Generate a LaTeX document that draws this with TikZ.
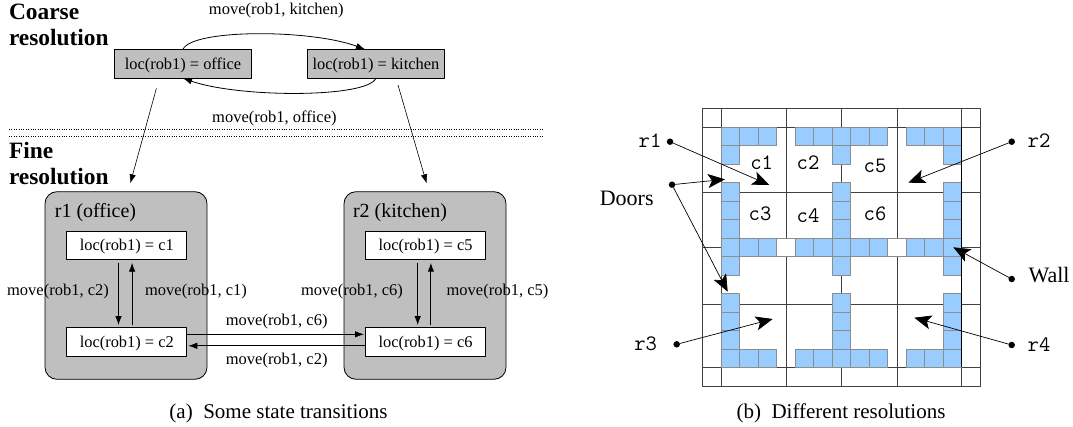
\documentclass[tikz,border=0pt]{standalone}
\usepackage{fontspec}
\setmainfont{Liberation Serif}
\usepackage{tikz}
\usetikzlibrary{arrows,arrows.meta,calc}

\definecolor{roomgray}{gray}{0.75}
\definecolor{cellblue}{RGB}{153,204,255}
\definecolor{cellline}{gray}{0.55}

\tikzset{
  every node/.style={inner sep=0pt, outer sep=0pt},
  lab/.style={font=\fontsize{16.5bp}{18bp}\selectfont},
  headlab/.style={font=\fontsize{23.4bp}{26bp}\selectfont\bfseries, align=left, anchor=north west},
  caplab/.style={font=\fontsize{21bp}{23bp}\selectfont},
  roomlab/.style={font=\fontsize{20bp}{22bp}\selectfont},
  biglab/.style={font=\fontsize{22bp}{24bp}\selectfont},
  ttlab/.style={font=\fontsize{22bp}{24bp}\selectfont\ttfamily},
  statebox/.style={draw, line width=0.8pt, minimum width=137.5bp, minimum height=29bp, text height=14bp, text depth=3bp, font=\fontsize{16.4bp}{18bp}\selectfont},
  coarsebox/.style={statebox, fill=roomgray},
  finebox/.style={statebox, fill=white, minimum width=120bp, minimum height=28.4bp},
  roombox/.style={draw, line width=0.8pt, fill=roomgray, rounded corners=12bp, minimum width=162bp, minimum height=187.6bp},
  cellbox/.style={draw=cellline, line width=0.8pt, fill=#1, minimum size=18.5bp},
  cellbox/.default=cellblue,
  pin/.style={circle, fill=black, minimum size=6.5bp},
  bigarrow/.style={-{Stealth[length=17bp,width=14bp,inset=4bp]}, line width=0.7pt},
}

\begin{document}
\begin{tikzpicture}[>={Latex[length=9bp,width=6.5bp]}, line join=bevel]
  \useasboundingbox (0bp, 0bp) rectangle (1073bp, 427bp);

  % Coarse part
  \node (coarsetext) at (9bp, 422.5bp) [headlab] {Coarse\\resolution};
  \node (office) at (183bp, 363.2bp) [coarsebox] {loc(rob1) = office};
  \node (kitchen) at (375.9bp, 363.2bp) [coarsebox] {loc(rob1) = kitchen};
  \node (movekitchen) at (276.3bp, 416bp) [lab] {move(rob1, kitchen)};
  \node (moveoffice) at (274.4bp, 308.7bp) [lab] {move(rob1, office)};

  \draw[->, line width=0.8pt] (office.north) .. controls (192bp, 398bp) and (310bp, 398bp) .. (kitchen.127);
  \draw[->, line width=0.8pt] (kitchen.south) .. controls (367bp, 329bp) and (240bp, 329bp) .. (office.south);

  % Separator
  \coordinate (sepaw) at (9bp, 297.7bp);
  \coordinate (sepae) at (544bp, 297.7bp);
  \coordinate (sepbw) at (9bp, 290.3bp);
  \coordinate (sepbe) at (544bp, 290.3bp);
  \draw[dotted] (sepaw) -- (sepae);
  \draw[dotted] (sepbw) -- (sepbe);

  % Fine part
  \node (finetext) at (9bp, 285bp) [headlab] {Fine\\resolution};
  \node (roomone) at (126bp, 141.5bp) [roombox] {};
  \node (roomtwo) at (425bp, 141.5bp) [roombox] {};
  \node (roomonetext) at (95.5bp, 214.5bp) [roomlab] {r1 (office)};
  \node (roomtwotext) at (400bp, 214.5bp) [roomlab] {r2 (kitchen)};

  \node (cone) at (126.8bp, 181.5bp) [finebox] {loc(rob1) = c1};
  \node (ctwo) at (126.8bp, 85.2bp) [finebox] {loc(rob1) = c2};
  \node (cfive) at (425.5bp, 181.5bp) [finebox] {loc(rob1) = c5};
  \node (csix) at (425.5bp, 85.2bp) [finebox] {loc(rob1) = c6};

  % Edges
  \coordinate (officeout) at (156.4bp, 338.7bp);
  \coordinate (roomonein) at (130.3bp, 243.7bp);
  \coordinate (kitchenout) at (398bp, 342bp);
  \coordinate (roomtwoin) at (426.6bp, 243.7bp);
  \draw[->, line width=0.6pt] (officeout) to (roomonein);
  \draw[->, line width=0.6pt] (kitchenout) to (roomtwoin);

  \draw[->, line width=0.8pt] ([xshift=-8.3bp,yshift=-3bp]cone.south) to ([xshift=-8.3bp,yshift=2.5bp]ctwo.north);
  \draw[->, line width=0.8pt] ([xshift=5.3bp,yshift=2.5bp]ctwo.north) to ([xshift=5.3bp,yshift=-3bp]cone.south);
  \draw[->, line width=0.8pt] ([xshift=-7.8bp,yshift=-3bp]cfive.south) to ([xshift=-7.8bp,yshift=2.5bp]csix.north);
  \draw[->, line width=1.1pt] ([xshift=5.4bp,yshift=2.5bp]csix.north) to ([xshift=5.4bp,yshift=-3bp]cfive.south);
  \draw[->, line width=0.8pt] ([yshift=7.5bp]ctwo.east) to ([yshift=7.5bp,xshift=-1.5bp]csix.west);
  \draw[->, line width=0.8pt] ([yshift=-4bp]csix.west) to ([yshift=-4bp,xshift=1.5bp]ctwo.east);

  \node (labctwo) at (58bp, 135.5bp) [lab] {move(rob1, c2)};
  \node (labcone) at (196bp, 135.5bp) [lab] {move(rob1, c1)};
  \node (labcsixa) at (352bp, 135.5bp) [lab] {move(rob1, c6)};
  \node (labcfive) at (497.5bp, 135.5bp) [lab] {move(rob1, c5)};
  \node (labcsixb) at (276.7bp, 105.5bp) [lab] {move(rob1, c6)};
  \node (labctwob) at (276.7bp, 66.5bp) [lab] {move(rob1, c2)};

  \node (capa) at (278.5bp, 13.5bp) [caplab] {(a)\enspace Some state transitions};

  % Grid
  \coordinate (gridsw) at (702.7bp, 41bp);
  \coordinate (gridne) at (980bp, 318.3bp);
  \draw[line width=0.7pt, black!75] (gridsw) rectangle (gridne);
  \foreach \gx in {721.3, 786.7, 841.7, 897.7, 961.7}
    \draw[line width=0.7pt, black!75] (\gx bp, 41bp) -- (\gx bp, 318.3bp);
  \foreach \gy in {59.7, 123, 179.7, 234.3, 299.7}
    \draw[line width=0.7pt, black!75] (702.7bp, \gy bp) -- (980bp, \gy bp);

  % Blue cells
  \foreach \ci/\cj in {0/0,1/0,2/0,4/0,5/0,6/0,7/0,8/0,10/0,11/0,12/0,
      0/1,6/1,12/1, 0/3,6/3,12/3, 0/4,6/4,12/4, 0/5,6/5,12/5,
      0/6,1/6,2/6,4/6,5/6,6/6,7/6,8/6,10/6,11/6,12/6,
      0/7,6/7,12/7, 0/9,6/9,12/9, 0/10,6/10,12/10, 0/11,6/11,12/11,
      0/12,1/12,2/12,4/12,5/12,6/12,7/12,8/12,10/12,11/12,12/12}
    \node (cell\ci-\cj) at ({(730.6+18.5*\ci)*1bp}, {(290.5-18.5*\cj)*1bp}) [cellbox] {};
  \node (doorone) at ({(730.6+18.5*3)*1bp}, {(290.5-18.5*6)*1bp}) [cellbox=white] {};
  \node (doortwo) at ({(730.6+18.5*9)*1bp}, {(290.5-18.5*6)*1bp}) [cellbox=white] {};
  \draw[line width=0.7pt] (961.7bp, 59.7bp) -- (961.7bp, 299.7bp);

  \node (gcone) at (761.7bp, 264bp) [ttlab] {c1};
  \node (gctwo) at (808bp, 264bp) [ttlab] {c2};
  \node (gcfive) at (875bp, 261bp) [ttlab] {c5};
  \node (gcthree) at (760bp, 213bp) [ttlab] {c3};
  \node (gcfour) at (808bp, 211bp) [ttlab] {c4};
  \node (gcsix) at (875bp, 213bp) [ttlab] {c6};

  % Callouts
  \node (rone) at (650bp, 286bp) [ttlab] {r1};
  \node (rtwo) at (1039bp, 286bp) [ttlab] {r2};
  \node (rthree) at (645.7bp, 83bp) [ttlab] {r3};
  \node (rfour) at (1039bp, 82bp) [ttlab] {r4};
  \node (doors) at (626.7bp, 229bp) [biglab] {Doors};
  \node (wall) at (1049bp, 152bp) [biglab] {Wall};

  \node (ronepin) at (670bp, 285.3bp) [pin] {};
  \node (rtwopin) at (1011.7bp, 285.3bp) [pin] {};
  \node (rthreepin) at (676.7bp, 82.7bp) [pin] {};
  \node (rfourpin) at (1011.7bp, 82bp) [pin] {};
  \node (doorspin) at (672bp, 242.3bp) [pin] {};
  \node (wallpin) at (1011.7bp, 148bp) [pin] {};

  \coordinate (ronetip) at (769.3bp, 242bp);
  \coordinate (rtwotip) at (908.3bp, 244.3bp);
  \coordinate (rthreetip) at (772.7bp, 108bp);
  \coordinate (rfourtip) at (914.3bp, 109.3bp);
  \coordinate (walltip) at (953.3bp, 179.7bp);
  \coordinate (doortipa) at (725bp, 247.7bp);
  \coordinate (doortipb) at (727.7bp, 135.3bp);

  \draw[bigarrow] (ronepin) to (ronetip);
  \draw[bigarrow] (rtwopin) to (rtwotip);
  \draw[bigarrow] (rthreepin) to (rthreetip);
  \draw[bigarrow] (rfourpin) to (rfourtip);
  \draw[bigarrow] (wallpin) to (walltip);
  \draw[bigarrow] (doorspin) to (doortipa);
  \draw[bigarrow] (doorspin) to (doortipb);

  \node (capb) at (841bp, 13.5bp) [caplab] {(b)\enspace Different resolutions};
\end{tikzpicture}
\end{document}
